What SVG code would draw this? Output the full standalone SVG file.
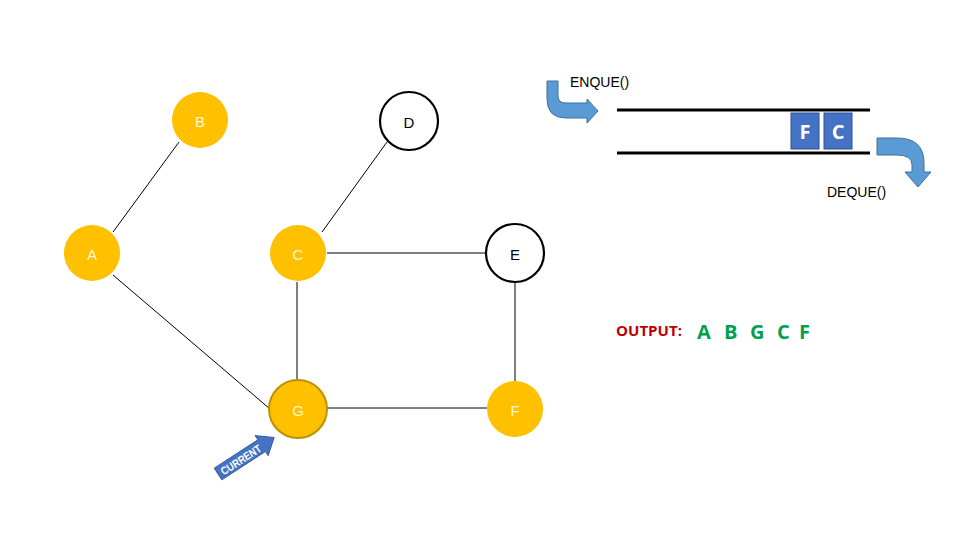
<svg xmlns="http://www.w3.org/2000/svg" width="960" height="540" viewBox="0 0 960 540">
<defs>
<style>
.edge{stroke:#000;stroke-width:1;fill:none}
.on{fill:#FFC000}
.off{fill:#fff;stroke:#000;stroke-width:2.2}
.lbl{font-family:"Liberation Sans","Open Sans",sans-serif;font-size:15px;text-anchor:middle;dominant-baseline:central}
.lw{fill:#FFF6D0}
.lb{fill:#000}
.arrow{fill:#5B9BD5;stroke:#41719C;stroke-width:1}
.qline{stroke:#000;stroke-width:3}
.qbox{fill:#4472C4;stroke:#2F528F;stroke-width:1}
.qtxt{font-family:"Open Sans","Liberation Sans",sans-serif;font-weight:bold;font-size:20px;fill:#fff;text-anchor:middle;dominant-baseline:central}
.cap{font-family:"Liberation Sans","Open Sans",sans-serif;font-size:14px;fill:#000}
.out{font-family:"Open Sans","Liberation Sans",sans-serif;font-weight:bold;font-size:20px;fill:#00A050}
</style>
</defs>
<rect width="960" height="540" fill="#fff"/>
<g id="connectors">
<line class="edge" x1="113" y1="232" x2="179" y2="142"/>
<line class="edge" x1="322" y1="232" x2="387" y2="142"/>
<line class="edge" x1="327" y1="253" x2="487" y2="253"/>
<line class="edge" x1="297" y1="282" x2="297" y2="381"/>
<line class="edge" x1="515" y1="282" x2="515" y2="381"/>
<line class="edge" x1="327" y1="408" x2="487" y2="408"/>
<line class="edge" x1="113" y1="275" x2="270" y2="409"/>
</g>
<g id="node-B"><circle class="on" cx="200" cy="120" r="28"/><text class="lbl lw" x="200" y="121">B</text></g>
<g id="node-D"><circle class="off" cx="409" cy="121" r="29"/><text class="lbl lb" x="409" y="122">D</text></g>
<g id="node-A"><circle class="on" cx="92" cy="253" r="28"/><text class="lbl lw" x="92" y="254">A</text></g>
<g id="node-C"><circle class="on" cx="298" cy="253" r="28"/><text class="lbl lw" x="298" y="254">C</text></g>
<g id="node-E"><circle class="off" cx="515" cy="253" r="29"/><text class="lbl lb" x="515" y="254">E</text></g>
<g id="node-G"><circle class="on" cx="298" cy="409" r="29" stroke="#BF9000" stroke-width="2"/><text class="lbl lw" x="298" y="410">G</text></g>
<g id="node-F"><circle class="on" cx="515" cy="409" r="28"/><text class="lbl lw" x="515" y="410">F</text></g>
<g id="current-pointer" transform="translate(218,474) rotate(-33)">
<path d="M0,-7 L52,-7 L52,-12 L67,0 L52,12 L52,7 L0,7 Z" fill="#4472C4" stroke="#2F528F" stroke-width="0.8"/>
<text x="27" y="0.5" font-family="Liberation Sans,sans-serif" font-weight="bold" font-size="11" fill="#fff" text-anchor="middle" dominant-baseline="central" textLength="46" lengthAdjust="spacingAndGlyphs">CURRENT</text>
</g>
<g id="queue">
<line class="qline" x1="617" y1="110" x2="870" y2="110"/>
<line class="qline" x1="617" y1="153" x2="870" y2="153"/>
<rect class="qbox" x="791" y="113" width="28" height="36"/>
<text class="qtxt" x="805" y="131">F</text>
<rect class="qbox" x="824" y="113" width="28" height="36"/>
<text class="qtxt" x="838" y="131">C</text>
</g>
<g id="enque">
<path class="arrow" d="M547,81 L558,81 L558,96 Q558,103 566,103 L587,103 L587,99 L598,111 L587,123 L587,118 L566,118 Q547,118 547,99 Z"/>
<text class="cap" x="570" y="87">ENQUE()</text>
</g>
<g id="deque">
<path class="arrow" d="M877,138 L897,138 Q924,138 924,163 L924,172 L931,172 L918,187 L905,172 L912,172 L912,165 Q912,155 897,155 L877,155 Z"/>
<text class="cap" x="827" y="197">DEQUE()</text>
</g>
<g id="output">
<text x="616" y="336" font-family="Open Sans,Liberation Sans,sans-serif" font-weight="bold" font-size="14" fill="#C00000" textLength="66" lengthAdjust="spacingAndGlyphs">OUTPUT:</text>
<text class="out" x="697" y="339">A</text>
<text class="out" x="724" y="339">B</text>
<text class="out" x="750" y="339">G</text>
<text class="out" x="777" y="339">C</text>
<text class="out" x="799" y="339">F</text>
</g>
</svg>
